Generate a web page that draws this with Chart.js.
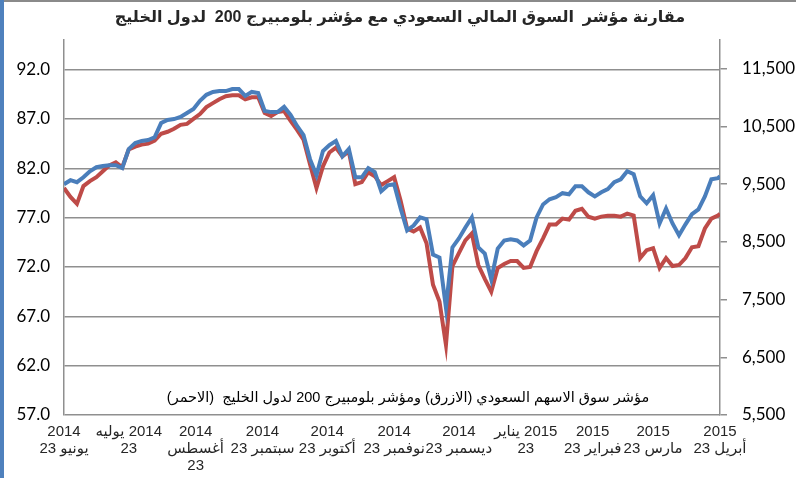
<!DOCTYPE html>
<html>
<head>
<meta charset="utf-8">
<script src="https://cdn.jsdelivr.net/npm/chart.js@4.4.1/dist/chart.umd.min.js"></script>
<style>
  html, body { margin: 0; padding: 0; background: #fff; }
  #chart { display: block; }
</style>
</head>
<body>
<canvas id="chart" width="796" height="478"></canvas>
<script>
// sample dates: days counted from 23 June 2014
const sampleDays = [0,3,6,9,12,15,18,21,24,27,30,33,36,39,42,45,48,51,54,57,60,63,66,69,72,75,78,81,84,87,
  90,93,96,99,102,105,108,111,114,117,120,123,126,129,132,135,138,141,144,147,150,153,156,159,162,165,168,171,174,177,
  180,183,186,189,192,195,198,201,204,207,210,213,216,219,222,225,228,231,234,237,240,243,246,249,252,255,258,261,264,267,
  270,273,276,279,282,285,288,291,294,297,300,303,304];

// Saudi market index (blue, right axis)
const tasi = [9500,9570,9535,9620,9725,9795,9815,9830,9830,9780,
  10110,10215,10250,10265,10315,10560,10615,10630,10665,10735,
  10805,10945,11050,11100,11115,11115,11150,11150,11030,11100,
  11080,10770,10750,10750,10840,10700,10510,10350,9935,9655,
  10075,10180,10250,9985,10110,9620,9620,9780,9710,9380,
  9480,9500,9080,8700,8785,8925,8890,8280,8230,7360,
  8405,8560,8750,8925,8405,8300,7850,8385,8525,8545,
  8525,8440,8525,8925,9150,9240,9275,9345,9325,9465,
  9465,9360,9290,9360,9415,9535,9585,9725,9675,9290,
  9170,9310,8820,9080,8820,8615,8805,8980,9065,9290,
  9585,9605,9640];

// Bloomberg GCC 200 (red, left axis)
const gcc200 = [80.0,79.1,78.4,80.2,80.7,81.1,81.7,82.3,82.6,82.1,
  83.9,84.2,84.4,84.5,84.8,85.5,85.7,86.0,86.4,86.5,
  87.0,87.5,88.2,88.6,89.0,89.3,89.4,89.4,89.0,89.2,
  89.2,87.6,87.3,87.7,87.8,86.8,85.9,84.9,82.4,80.0,
  82.2,83.6,84.1,83.2,83.7,80.4,80.6,81.6,81.2,80.3,
  80.7,81.1,78.7,75.9,75.6,76.0,74.4,70.2,68.5,64.1,
  72.1,73.4,74.7,75.4,72.2,70.8,69.5,71.9,72.3,72.6,
  72.6,71.9,72.0,73.6,74.9,76.3,76.3,76.9,76.8,77.7,
  77.9,77.1,76.9,77.1,77.2,77.2,77.1,77.4,77.2,72.9,
  73.7,73.9,71.9,72.9,72.1,72.2,72.9,74.0,74.1,75.9,
  76.9,77.2,77.4];

const monthDays = [0,30,61,92,122,153,183,214,245,273,304];
const monthLabels = [
  ["2014", "23 يونيو"],
  ["يوليه\u200E 2014", "23"],
  ["2014", "أغسطس", "23"],
  ["2014", "23 سبتمبر"],
  ["2014", "23 أكتوبر"],
  ["2014", "23 نوفمبر"],
  ["2014", "23 ديسمبر"],
  ["يناير\u200E 2015", "23"],
  ["2015", "23 فبراير"],
  ["2015", "23 مارس"],
  ["2015", "23 أبريل"]
];
const leftTicks = [57,62,67,72,77,82,87,92];
const rightTicks = [5500,6500,7500,8500,9500,10500,11500];

const titleText = "مقارنة مؤشر  السوق المالي السعودي مع مؤشر بلومبيرج 200  لدول الخليج";
const noteText = "مؤشر سوق الاسهم السعودي (الازرق) ومؤشر بلومبيرج 200 لدول الخليج  (الاحمر)";

const gridColor = "#8f8f8f";

// frame, title and note text (drawn rtl)
const textPlugin = {
  id: "arabicText",
  beforeDraw(chart) {
    const ctx = chart.ctx;
    ctx.save();
    ctx.fillStyle = "#ffffff";
    ctx.fillRect(0, 0, chart.width, chart.height);
    ctx.fillStyle = "#8a8a8a";
    ctx.fillRect(0, 0, chart.width, 2);
    ctx.fillStyle = "#4f81bd";
    ctx.fillRect(0, 0, 4, chart.height);
    ctx.restore();
  },
  afterDraw(chart) {
    const ctx = chart.ctx;
    ctx.save();
    ctx.direction = "rtl";
    ctx.textAlign = "center";
    ctx.textBaseline = "middle";
    ctx.fillStyle = "#262626";
    ctx.font = "bold 16px 'Liberation Sans', 'DejaVu Sans', sans-serif";
    ctx.fillText(titleText, 400, 18);
    ctx.fillStyle = "#000000";
    ctx.font = "14.5px 'Liberation Sans', 'DejaVu Sans', sans-serif";
    ctx.fillText(noteText, 408, 398);
    ctx.restore();
  }
};

new Chart(document.getElementById("chart"), {
  type: "line",
  data: {
    datasets: [
      {
        label: "TASI",
        data: sampleDays.map((d, i) => ({ x: d, y: tasi[i] })),
        yAxisID: "y1",
        borderColor: "#4a7ebb",
        borderWidth: 4,
        pointRadius: 0,
        tension: 0
      },
      {
        label: "GCC 200",
        data: sampleDays.map((d, i) => ({ x: d, y: gcc200[i] })),
        yAxisID: "y",
        borderColor: "#be4b48",
        borderWidth: 4,
        pointRadius: 0,
        tension: 0
      }
    ]
  },
  options: {
    responsive: false,
    animation: false,
    layout: { padding: { top: 40, left: 0, right: 0, bottom: 0 } },
    plugins: { legend: { display: false }, tooltip: { enabled: false }, title: { display: false } },
    scales: {
      x: {
        type: "linear",
        min: 0,
        max: 304,
        afterBuildTicks: s => { s.ticks = monthDays.map(v => ({ value: v })); },
        afterFit: s => { s.height = 63; },
        grid: { display: false, drawTicks: false },
        border: { display: false },
        ticks: {
          autoSkip: false,
          maxRotation: 0,
          padding: 8,
          color: "#262626",
          font: { family: "'Liberation Sans', 'DejaVu Sans', sans-serif", size: 15, lineHeight: 1.15 },
          callback: (v, i) => monthLabels[i]
        }
      },
      y: {
        position: "left",
        min: 57,
        max: 95,
        afterBuildTicks: s => { s.ticks = leftTicks.map(v => ({ value: v })); },
        afterFit: s => { s.width = 64; },
        grid: { color: gridColor, lineWidth: 1.5, drawTicks: false },
        border: { color: gridColor, width: 1.5 },
        ticks: {
          padding: 14,
          color: "#000000",
          font: { family: "Lato", size: 17 },
          callback: v => v.toFixed(1)
        }
      },
      y1: {
        position: "right",
        min: 5500,
        max: 12000,
        afterBuildTicks: s => { s.ticks = rightTicks.map(v => ({ value: v })); },
        afterFit: s => { s.width = 76; },
        grid: { drawOnChartArea: false, color: gridColor, lineWidth: 1.5, tickLength: 7 },
        border: { color: gridColor, width: 1.5 },
        ticks: {
          padding: 15,
          color: "#000000",
          font: { family: "Lato", size: 17 },
          callback: v => v.toLocaleString("en-US")
        }
      }
    }
  },
  plugins: [textPlugin]
});
</script>
</body>
</html>
